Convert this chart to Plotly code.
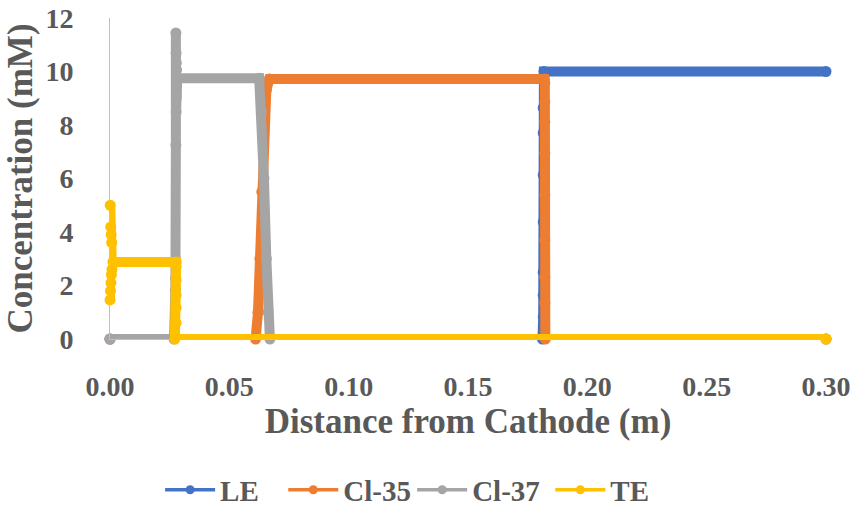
import plotly.graph_objects as go

# ---- data ----
le_x = [0.000, 0.1812, 0.1815, 0.1815, 0.1815, 0.1815, 0.1815, 0.1815, 0.1815, 0.1818, 0.300]
le_y = [0.0, 0.0, 0.82, 1.64, 2.50, 4.37, 6.13, 7.70, 8.64, 10.0, 10.0]

cl35_x = [0.000, 0.0610, 0.0620, 0.0628, 0.0636, 0.0645, 0.0655, 0.0668, 0.1820, 0.1822, 0.1822, 0.1822, 0.1822, 0.1822, 0.1822, 0.1822, 0.1822, 0.1824, 0.300]
cl35_y = [0.0, 0.0, 1.0, 3.0, 5.5, 8.0, 9.3, 9.72, 9.72, 9.57, 8.86, 8.11, 6.95, 5.38, 3.70, 2.32, 1.35, 0.0, 0.0]

cl37_x = [0.000, 0.0268, 0.0274, 0.0275, 0.0276, 0.0276, 0.0277, 0.0277, 0.0278, 0.0278, 0.0279, 0.0279, 0.0282, 0.0625, 0.0635, 0.0645, 0.0655, 0.0662, 0.0670, 0.300]
cl37_y = [0.0, 0.0, 1.83, 2.28, 7.25, 11.44, 8.49, 10.69, 9.05, 10.32, 9.57, 10.06, 9.75, 9.75, 8.5, 6.0, 3.0, 1.0, 0.0, 0.0]

te_x = [0.000, 0.0001, 0.0002, 0.0003, 0.0004, 0.0005, 0.0006, 0.0007, 0.0008, 0.0012, 0.0277, 0.0277, 0.0277, 0.0277, 0.0277, 0.0277, 0.0272, 0.300]
te_y = [1.46, 5.00, 1.80, 4.19, 2.10, 3.90, 2.40, 3.60, 2.60, 2.88, 2.88, 2.70, 2.20, 1.64, 1.16, 0.60, 0.0, 0.0]

x_ticks = [0.00, 0.05, 0.10, 0.15, 0.20, 0.25, 0.30]
y_ticks = [0, 2, 4, 6, 8, 10, 12]

names = ["LE", "Cl-35", "Cl-37", "TE"]
colors = ["#4472C4", "#ED7D31", "#A5A5A5", "#FFC000"]
series = [(le_x, le_y), (cl35_x, cl35_y), (cl37_x, cl37_y), (te_x, te_y)]

TXT = "#595959"
FONT = "Liberation Serif"

fig = go.Figure()
for (xs, ys), nm, c in zip(series, names, colors):
    fig.add_trace(go.Scatter(
        x=xs, y=ys, name=nm, mode="lines+markers",
        line=dict(color=c, width=10),
        marker=dict(color=c, size=11),
        cliponaxis=False, showlegend=False, legendgroup=nm,
    ))

# one legend per entry so the spacing matches the reference
legend_ids = ["legend", "legend2", "legend3", "legend4"]
legend_x = [0.070, 0.242, 0.422, 0.615]
for nm, c, lid in zip(names, colors, legend_ids):
    fig.add_trace(go.Scatter(
        x=[None], y=[None], name=nm, mode="lines+markers",
        line=dict(color=c, width=3.5),
        marker=dict(color=c, size=9),
        showlegend=True, legendgroup=nm, legend=lid,
    ))

fig.update_layout(
    width=859, height=506,
    margin=dict(l=110, r=33, t=18, b=167, autoexpand=False),
    paper_bgcolor="white", plot_bgcolor="white",
    font=dict(family=FONT, color=TXT, size=28, weight="bold"),
    showlegend=True,
)
for lid, lx in zip(legend_ids, legend_x):
    fig.update_layout({lid: dict(
        orientation="h", x=lx, xanchor="left", y=-0.47, yanchor="middle",
        font=dict(family=FONT, size=29, color=TXT, weight="bold"),
        itemwidth=50, bgcolor="rgba(0,0,0,0)")})

fig.update_xaxes(
    range=[0, 0.30], tickvals=x_ticks, ticktext=[f"{v:.2f}" for v in x_ticks],
    showgrid=False, zeroline=False, showline=True, linecolor="#BFBFBF", linewidth=1,
    ticks="", ticklabelstandoff=22,
    tickfont=dict(family=FONT, size=28, color=TXT, weight="bold"),
    title=dict(text="Distance from Cathode (m)", standoff=5,
               font=dict(family=FONT, size=35, color=TXT, weight="bold")),
    automargin=False,
)
fig.update_yaxes(
    range=[0, 12], tickvals=y_ticks, ticktext=[str(v) for v in y_ticks],
    showgrid=False, zeroline=False, showline=True, linecolor="#BFBFBF", linewidth=1,
    ticks="", ticklabelstandoff=30,
    tickfont=dict(family=FONT, size=28, color=TXT, weight="bold"),
    title=dict(text="Concentration (mM)", standoff=2,
               font=dict(family=FONT, size=35, color=TXT, weight="bold")),
    automargin=False,
)

fig.write_html("out.html")
